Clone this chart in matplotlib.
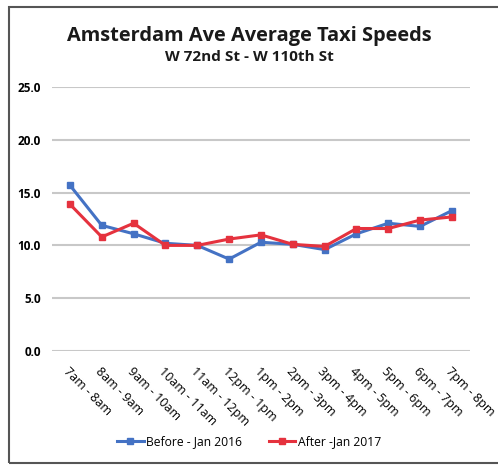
import matplotlib.pyplot as plt
from matplotlib.patches import Rectangle

hours = ['7am - 8am', '8am - 9am', '9am - 10am', '10am - 11am', '11am - 12pm',
         '12pm - 1pm', '1pm - 2pm', '2pm - 3pm', '3pm - 4pm', '4pm - 5pm',
         '5pm - 6pm', '6pm - 7pm', '7pm - 8pm']
before_2016 = [15.7, 11.9, 11.1, 10.2, 10.0, 8.7, 10.3, 10.1, 9.6, 11.1, 12.1, 11.8, 13.3]
after_2017 = [13.9, 10.8, 12.1, 10.0, 10.0, 10.6, 11.0, 10.1, 9.9, 11.6, 11.6, 12.4, 12.7]
y_ticks = [0, 5, 10, 15, 20, 25]

plt.rcParams['font.family'] = ['Open Sans', 'DejaVu Sans']

fig = plt.figure(figsize=(4.98, 4.66), dpi=100)
ax = fig.add_axes([0.104, 0.247, 0.840, 0.566])

x = list(range(len(hours)))
ax.plot(x, before_2016, color='#4472C4', lw=2.2, marker='s', ms=5, label='Before - Jan 2016')
ax.plot(x, after_2017, color='#E5323E', lw=2.2, marker='s', ms=5, label='After -Jan 2017')

ax.set_ylim(0, 25)
ax.set_xlim(-0.57, len(hours) - 1 + 0.57)
ax.set_yticks(y_ticks)
ax.set_yticklabels([f'{v:.1f}' for v in y_ticks], fontsize=8.5, fontweight='bold')
ax.set_xticks(x)
ax.set_xticklabels(hours, rotation=-45, ha='left', va='top', rotation_mode='anchor', fontsize=9)
ax.tick_params(length=0, pad=8)
ax.tick_params(axis='x', pad=10)
ax.grid(axis='y', color='#c8c8c8', lw=1.5)
ax.set_axisbelow(True)
for s in ax.spines.values():
    s.set_visible(False)

fig.text(0.5, 0.922, 'Amsterdam Ave Average Taxi Speeds', ha='center', va='center',
         fontsize=14.4, fontweight='bold', color='#1a1a1a')
fig.text(0.5, 0.877, 'W 72nd St - W 110th St', ha='center', va='center',
         fontsize=11, fontweight='bold', color='#1a1a1a')

fig.legend(loc='center', bbox_to_anchor=(0.5, 0.052), ncol=2, frameon=False,
           fontsize=8.7, handlelength=2.2, columnspacing=2.2, handletextpad=0.2)

# chart frame
fig.patches.append(Rectangle((9 / 498, 3 / 466), 1.2, 1 - 10 / 466, transform=fig.transFigure,
                             fill=False, edgecolor='#555555', lw=1.5))

fig.savefig('out.png', dpi=100)
